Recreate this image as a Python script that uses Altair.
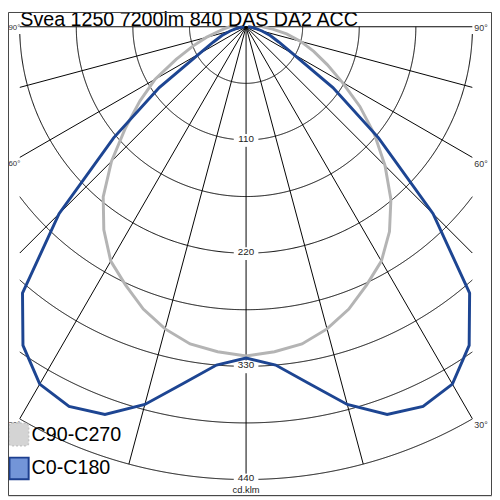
import numpy as np
import pandas as pd
import altair as alt

# ---------------- data ----------------
TITLE = "Svea 1250 7200lm 840 DAS DA2 ACC"
UNIT = "cd.klm"
SERIES = ["C90-C270", "C0-C180"]
GAMMA = [0, 5, 10, 15, 20, 25, 30, 35, 40, 45, 50, 55, 60, 65, 70, 75, 80, 85, 90]
C0_C180 = [322, 330, 352, 380, 401, 407, 401, 378, 338, 257, 168, 103, 53, 35, 25, 16, 10, 5, 2]
C270_HALF = [320, 317, 313, 304, 292, 277, 263, 241, 216, 185, 153, 126, 102, 75, 55, 40, 28, 21, 16]
C90_HALF = [320, 317, 313, 304, 292, 277, 263, 243, 219, 191, 163, 135, 108, 87, 70, 55, 40, 26, 16]
RADIUS_TICKS = [55, 110, 165, 220, 275, 330, 385, 440]
RADIUS_LABELS = [110, 220, 330, 440]
ANGLE_TICKS = [-90, -75, -60, -45, -30, -15, 0, 15, 30, 45, 60, 75, 90]
ANGLE_LABELS = [90, 60, 30]

# ---------------- layout ----------------
K = 1.046            # px per cd/klm
W = H = 492
CX, CY = 242, 15     # pole position inside the view (px)
XB = 230 / K         # half width of the drawing box (data units)
RMAX = RADIUS_TICKS[-1]

xs = alt.Scale(domain=[-CX / K, (W - CX) / K], nice=False, zero=False)
ys = alt.Scale(domain=[-(H - CY) / K, CY / K], nice=False, zero=False)
X = lambda f="x": alt.X(f"{f}:Q", scale=xs, axis=None)
Y = lambda f="y": alt.Y(f"{f}:Q", scale=ys, axis=None)

FONT = "Liberation Sans"

# curves
rows = []
for name, left, right in [(SERIES[0], C270_HALF, C90_HALF), (SERIES[1], C0_C180, C0_C180)]:
    seq = [(-g, v) for g, v in zip(GAMMA[::-1], left[::-1])] + \
          [(g, v) for g, v in zip(GAMMA[1:], right[1:])]
    for i, (a, v) in enumerate(seq):
        rows.append(dict(series=name, angle=a, I=v, ord=i))
curves = pd.DataFrame(rows)

# grid circles
grows = []
for r in RADIUS_TICKS:
    amax = 90.0 if r <= XB else np.degrees(np.arcsin(XB / r))
    for i, a in enumerate(np.linspace(-amax, amax, 721)):
        t = np.radians(a)
        grows.append(dict(g=f"c{r}", ord=i, x=r * np.sin(t), y=-r * np.cos(t)))
# radial lines
for a in ANGLE_TICKS:
    t = np.radians(a)
    s = abs(np.sin(t))
    rend = RMAX if s < 1e-9 else min(RMAX, XB / s)
    grows.append(dict(g=f"a{a}", ord=0, x=0.0, y=0.0))
    grows.append(dict(g=f"a{a}", ord=1, x=rend * np.sin(t), y=-rend * np.cos(t)))
grid_df = pd.DataFrame(grows)

grid = alt.Chart(grid_df).mark_line(color="#000000", strokeWidth=1).encode(
    x=X(), y=Y(), detail="g:N", order="ord:Q")

# radius labels with white boxes
lab_df = pd.DataFrame({"v": RADIUS_LABELS})
lab_df["txt"] = lab_df["v"].astype(str)
lab_df["x"] = 0.0
lab_df["y"] = -lab_df["v"].astype(float)
lab_df["x1"] = -12.5 / K
lab_df["x2"] = 12.5 / K
lab_df["y1"] = lab_df["y"] - 7 / K
lab_df["y2"] = lab_df["y"] + 6 / K
boxes = alt.Chart(lab_df).mark_rect(color="white").encode(
    x=X("x1"), x2="x2:Q", y=Y("y1"), y2="y2:Q")
rlabels = alt.Chart(lab_df).mark_text(font=FONT, fontSize=10, color="#222222",
                                      baseline="middle", dy=-1).encode(
    x=X(), y=Y(), text="txt:N")
unit_df = pd.DataFrame({"x": [0.0], "y": [-float(RMAX)], "t": [UNIT]})
unit = alt.Chart(unit_df).mark_text(font=FONT, fontSize=9.5, color="#222222",
                                    baseline="middle", dy=11).encode(
    x=X(), y=Y(), text="t:N")

# angle labels
arows = []
for a in ANGLE_LABELS:
    t = np.radians(a)
    yv = -XB * np.cos(t) / np.sin(t)
    arows.append(dict(a=a, t=f"{a}°", side="L", x=-XB, y=yv))
    arows.append(dict(a=a, t=f"{a}°", side="R", x=XB, y=yv))
ang_df = pd.DataFrame(arows)
ang_layers = []
for side in ["L", "R"]:
    for cond, dy in [("datum.a == 90", 1), ("datum.a != 90", 6.5)]:
        base = alt.Chart(ang_df).transform_filter(f"datum.side == '{side}'").transform_filter(cond)
        if side == "L":
            layer = base.mark_text(font=FONT, fontSize=8, color="#333333", align="left",
                                   baseline="middle", dy=dy).encode(
                x=alt.value(0.5), y=Y(), text="t:N")
        else:
            layer = base.mark_text(font=FONT, fontSize=9, color="#333333", align="left",
                                   baseline="middle", dx=2, dy=dy).encode(
                x=X(), y=Y(), text="t:N")
        ang_layers.append(layer)

# curves
def curve(name, color):
    return alt.Chart(curves).transform_filter(f"datum.series == '{name}'").transform_calculate(
        x="datum.I * sin(datum.angle * PI / 180)",
        y="-datum.I * cos(datum.angle * PI / 180)",
    ).mark_line(color=color, strokeWidth=3, strokeJoin="miter").encode(
        x=X(), y=Y(), order="ord:Q")

gray_curve = curve(SERIES[0], "#b4b4b4")
blue_curve = curve(SERIES[1], "#1d4592")

# title
one = pd.DataFrame({"t": [TITLE]})
title = alt.Chart(one).mark_text(font=FONT, fontSize=20, color="#000000", align="left",
                                 baseline="alphabetic").encode(
    x=alt.value(12.5), y=alt.value(14), text="t:N")

# legend
leg = pd.DataFrame({"s": SERIES})
leg_gray_box = alt.Chart(leg).transform_filter(f"datum.s == '{SERIES[0]}'").mark_rect(
    fill="#d4d4d4", stroke="#c4c4c4", strokeWidth=1.5, strokeDash=[2, 2], cornerRadius=3).encode(
    x=alt.value(1), x2=alt.value(21), y=alt.value(418), y2=alt.value(441))
leg_blue_box = alt.Chart(leg).transform_filter(f"datum.s == '{SERIES[1]}'").mark_rect(
    fill="#7395d8", stroke="#1d3f8f", strokeWidth=2).encode(
    x=alt.value(1.5), x2=alt.value(21), y=alt.value(453), y2=alt.value(475))
leg_gray_t = alt.Chart(leg).transform_filter(f"datum.s == '{SERIES[0]}'").mark_text(
    font=FONT, fontSize=20, color="#000000", align="left", baseline="middle").encode(
    x=alt.value(24), y=alt.value(430), text="s:N")
leg_blue_t = alt.Chart(leg).transform_filter(f"datum.s == '{SERIES[1]}'").mark_text(
    font=FONT, fontSize=20, color="#000000", align="left", baseline="middle").encode(
    x=alt.value(24), y=alt.value(464), text="s:N")

# frame
frame = alt.Chart(one).mark_rect(fillOpacity=0, stroke="#444444", strokeWidth=1).encode(
    x=alt.value(0.5), x2=alt.value(491.5), y=alt.value(0.5), y2=alt.value(491.5))

chart = alt.layer(
    grid, boxes, rlabels, unit, *ang_layers, gray_curve, blue_curve, title,
    leg_gray_box, leg_blue_box, leg_gray_t, leg_blue_t, frame
).properties(width=W, height=H, padding=0, autosize=alt.AutoSizeParams(type="none")
).configure_view(stroke=None).configure(background="white")

chart.save("out.html", embed_options={"renderer": "svg", "actions": False})
